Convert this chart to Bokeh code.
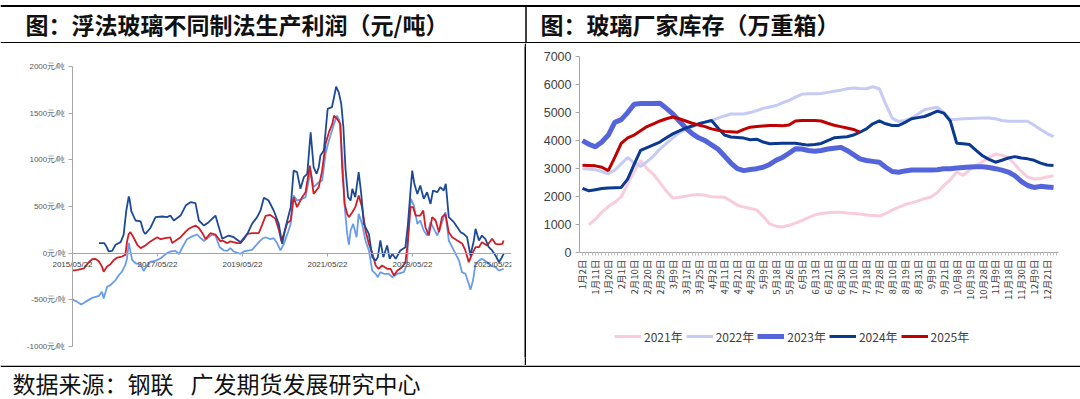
import datetime as dt
import math
from bokeh.plotting import figure
from bokeh.layouts import row, column
from bokeh.models import FixedTicker, Range1d, Legend, LegendItem, Span, Spacer
from bokeh.core.properties import value
from bokeh.embed import file_html
from bokeh.resources import INLINE

CJK = "Noto Sans CJK SC"
TITLE_LEFT = "图：浮法玻璃不同制法生产利润（元/吨）"
TITLE_RIGHT = "图：玻璃厂家库存（万重箱）"
SOURCE_PARTS = ["数据来源：钢联", "广发期货发展研究中心"]

# ---------------- left chart: profit (元/吨), time in fractional years ----------------
petcoke_t = [2016.01, 2016.13, 2016.17, 2016.24, 2016.32, 2016.40, 2016.52, 2016.59, 2016.65, 2016.71,
             2016.73, 2016.77, 2016.87, 2016.99, 2017.06, 2017.10, 2017.22, 2017.34, 2017.50, 2017.61,
             2017.69, 2017.77, 2017.93, 2018.05, 2018.16, 2018.28, 2018.36, 2018.48, 2018.59, 2018.75,
             2018.83, 2018.91, 2019.06, 2019.18, 2019.34, 2019.50, 2019.61, 2019.73, 2019.81, 2019.89,
             2020.00, 2020.12, 2020.24, 2020.32, 2020.40, 2020.52, 2020.59, 2020.67, 2020.75, 2020.83,
             2020.91, 2020.99, 2021.06, 2021.13, 2021.18, 2021.22, 2021.30, 2021.39, 2021.49, 2021.54,
             2021.59, 2021.65, 2021.71, 2021.76, 2021.81, 2021.87, 2021.93, 2021.97, 2022.04, 2022.12,
             2022.18, 2022.24, 2022.36, 2022.44, 2022.52, 2022.57, 2022.63, 2022.70, 2022.79, 2022.85,
             2022.91, 2022.99, 2023.10, 2023.22, 2023.28, 2023.34, 2023.38, 2023.43, 2023.50, 2023.57,
             2023.65, 2023.73, 2023.81, 2023.87, 2023.97, 2024.04, 2024.12, 2024.17, 2024.24, 2024.36,
             2024.44, 2024.52, 2024.59, 2024.67, 2024.75, 2024.83, 2024.87, 2024.95, 2025.02, 2025.10,
             2025.18, 2025.26, 2025.34, 2025.42, 2025.47, 2025.53]
petcoke_v = [108, 108, 83, 18, 25, 90, 118, 198, 450, 607,
             576, 450, 350, 340, 230, 207, 270, 386, 393, 386,
             403, 350, 403, 510, 546, 536, 350, 296, 332, 403,
             278, 154, 189, 171, 118, 207, 314, 386, 457, 593,
             564, 457, 314, 100, 278, 493, 885, 868, 689, 814,
             850, 1296, 921, 850, 921, 1046, 1100, 1546, 1564, 1671,
             1785, 1724, 1599, 1349, 900, 600, 564, 689, 600, 868,
             635, 314, 207, -43, -79, -43, 136, -43, 82, -61,
             -7, -61, 29, 64, 314, 671, 885, 743, 635, 725,
             582, 653, 528, 671, 653, 707, 671, 743, 386, 332,
             278, 225, 207, 171, -25, 136, 261, 136, 189, 154,
             64, 29, -25, -96, -61, -7]

coalgas_t = [2015.39, 2015.50, 2015.66, 2015.77, 2015.85, 2015.93, 2016.01, 2016.08, 2016.12, 2016.20,
             2016.28, 2016.36, 2016.44, 2016.55, 2016.63, 2016.67, 2016.71, 2016.75, 2016.83, 2016.91,
             2016.99, 2017.10, 2017.22, 2017.38, 2017.46, 2017.57, 2017.69, 2017.73, 2017.81, 2017.93,
             2018.05, 2018.12, 2018.28, 2018.36, 2018.44, 2018.52, 2018.63, 2018.75, 2018.87, 2018.91,
             2019.03, 2019.10, 2019.26, 2019.34, 2019.42, 2019.50, 2019.62, 2019.77, 2019.85, 2019.93,
             2020.04, 2020.16, 2020.24, 2020.30, 2020.36, 2020.44, 2020.52, 2020.59, 2020.67, 2020.79,
             2020.87, 2020.97, 2021.06, 2021.18, 2021.26, 2021.34, 2021.42, 2021.50, 2021.54, 2021.61,
             2021.69, 2021.73, 2021.79, 2021.85, 2021.89, 2021.97, 2022.04, 2022.12, 2022.20, 2022.28,
             2022.36, 2022.44, 2022.52, 2022.59, 2022.67, 2022.79, 2022.87, 2022.95, 2023.03, 2023.14,
             2023.22, 2023.28, 2023.34, 2023.40, 2023.46, 2023.57, 2023.64, 2023.69, 2023.77, 2023.85,
             2023.93, 2024.01, 2024.08, 2024.16, 2024.24, 2024.32, 2024.44, 2024.56, 2024.63, 2024.71,
             2024.79, 2024.87, 2024.95, 2025.02, 2025.14, 2025.26, 2025.34, 2025.42, 2025.50, 2025.53]
coalgas_v = [-187, -180, -162, -97, -65, -61, -90, -144, -198, -144,
             -119, -72, -47, -36, -18, 126, 205, 225, 162, 90,
             54, 83, 126, 170, 150, 162, 169, 110, 133, 171,
             230, 261, 296, 270, 216, 150, 214, 200, 126, 136,
             108, 126, 107, 108, 150, 207, 214, 216, 306, 400,
             410, 370, 252, 126, 207, 324, 350, 600, 493, 600,
             653, 939, 635, 707, 885, 1171, 1296, 1385, 1474, 1439,
             1385, 921, 528, 420, 386, 439, 493, 618, 493, 243,
             100, 0, -132, -168, -132, -168, -168, -239, -186, -150,
             -96, 136, 493, 493, 403, 403, 457, 278, 189, 386,
             350, 225, 386, 421, 225, 171, 136, 100, 29, -96,
             -7, 64, 64, 118, 82, 154, 100, 93, 100, 136]

natgas_t = [2015.39, 2015.50, 2015.59, 2015.69, 2015.85, 2016.01, 2016.08, 2016.12, 2016.20, 2016.28,
            2016.40, 2016.48, 2016.55, 2016.63, 2016.67, 2016.71, 2016.75, 2016.79, 2016.87, 2016.99,
            2017.06, 2017.14, 2017.22, 2017.34, 2017.46, 2017.61, 2017.69, 2017.81, 2017.89, 2017.97,
            2018.08, 2018.20, 2018.32, 2018.40, 2018.48, 2018.56, 2018.67, 2018.75, 2018.85, 2018.95,
            2019.03, 2019.10, 2019.18, 2019.34, 2019.42, 2019.61, 2019.77, 2019.85, 2019.93, 2020.04,
            2020.12, 2020.20, 2020.28, 2020.36, 2020.46, 2020.52, 2020.59, 2020.67, 2020.79, 2020.87,
            2020.99, 2021.06, 2021.18, 2021.26, 2021.34, 2021.42, 2021.54, 2021.61, 2021.67, 2021.74,
            2021.79, 2021.85, 2021.89, 2021.93, 2021.99, 2022.07, 2022.12, 2022.20, 2022.28, 2022.36,
            2022.44, 2022.52, 2022.57, 2022.63, 2022.71, 2022.83, 2022.91, 2023.03, 2023.18, 2023.26,
            2023.30, 2023.35, 2023.42, 2023.50, 2023.57, 2023.65, 2023.73, 2023.81, 2023.89, 2023.97,
            2024.03, 2024.11, 2024.16, 2024.24, 2024.32, 2024.40, 2024.48, 2024.55, 2024.63, 2024.71,
            2024.75, 2024.81, 2024.87, 2024.95, 2025.02, 2025.14, 2025.22, 2025.34, 2025.42, 2025.53]
natgas_v = [-497, -522, -551, -522, -479, -457, -414, -486, -360, -342,
            -288, -234, -198, -126, -54, 110, 18, -72, -108, -119,
            -191, -133, -90, -83, -54, 0, 18, 25, -11, 61,
            150, 180, 200, 162, 130, 162, 198, 189, 64, 29,
            25, 54, 18, -7, 18, 36, 118, 154, 171, 150,
            160, 108, 29, 100, 230, 314, 618, 564, 582, 600,
            885, 707, 760, 778, 1064, 1207, 1385, 1474, 1421, 1000,
            500, 207, 90, 243, 314, 171, 421, 314, 136, 29,
            -186, -221, -257, -203, -221, -221, -257, -221, -203, -114,
            386, 582, 510, 314, 350, 243, 189, 332, 261, 189,
            261, 368, 439, 136, 64, -7, -79, -203, -221, -328,
            -393, -293, -114, -79, -61, -96, -132, -150, -186, -168]

left_tick_dates = ["2015/05/22", "2017/05/22", "2019/05/22", "2021/05/22", "2023/05/22", "2025/05/22"]
left_y_ticks = [-1000, -500, 0, 500, 1000, 1500, 2000]

# ---------------- right chart: inventory (万重箱) ----------------
nan = float("nan")
inv_labels = ["1月2日", "1月11日", "1月20日", "2月1日", "2月10日", "2月20日", "2月29日", "3月9日",
              "3月17日", "3月25日", "4月2日", "4月11日", "4月21日", "4月29日", "5月9日", "5月18日",
              "5月26日", "6月5日", "6月13日", "6月21日", "6月30日", "7月10日", "7月18日", "7月28日",
              "8月10日", "8月19日", "8月31日", "9月9日", "9月21日", "10月8日", "10月19日", "10月28日",
              "11月9日", "11月18日", "11月30日", "12月9日", "12月21日"]
inv_y_ticks = [0, 1000, 2000, 3000, 4000, 5000, 6000, 7000]
inv_2021 = [nan, 1000, 1200, 1450, 1650, 1800, 2000, 2450, 2900, 3290,
            3000, 2800, 2500, 2200, 1950, 1980, 2020, 2060, 2080, 2050,
            2000, 1990, 1980, 1850, 1700, 1630, 1580, 1530, 1300, 1030,
            950, 920, 980, 1060, 1150, 1250, 1350, 1400, 1430, 1450,
            1450, 1420, 1400, 1380, 1350, 1330, 1310, 1400, 1520, 1630,
            1720, 1780, 1850, 1930, 1990, 2150, 2400, 2600, 2880, 2760,
            2950, 3110, 3250, 3400, 3520, 3480, 3400, 3150, 2900, 2700,
            2630, 2650, 2700, 2750]
inv_2022 = [3000, 2990, 2960, 2900, 2820, 2950, 3170, 3400, 3200, 3080,
            3250, 3450, 3700, 3900, 4100, 4280, 4400, 4500, 4600, 4660,
            4720, 4800, 4880, 4950, 4950, 4950, 5000, 5070, 5150, 5200,
            5250, 5350, 5430, 5550, 5650, 5670, 5670, 5680, 5720, 5760,
            5800, 5850, 5880, 5860, 5850, 5920, 5850, 5300, 4800, 4680,
            4720, 4800, 4950, 5100, 5150, 5190, 5000, 4750, 4760, 4780,
            4790, 4800, 4810, 4810, 4780, 4720, 4690, 4690, 4690, 4690,
            4550, 4400, 4250, 4140]
inv_2023 = [4000, 3870, 3780, 3950, 4200, 4650, 4750, 5000, 5300, 5320,
            5320, 5320, 5330, 5150, 4950, 4700, 4450, 4250, 4100, 4000,
            3850, 3700, 3450, 3200, 3000, 2930, 2970, 3000, 3050, 3150,
            3300, 3400, 3550, 3710, 3700, 3650, 3620, 3650, 3700, 3730,
            3760, 3650, 3500, 3350, 3290, 3260, 3230, 3050, 2900, 2870,
            2920, 2950, 2950, 2950, 2950, 2960, 3000, 3000, 3020, 3040,
            3060, 3070, 3070, 3040, 3000, 2950, 2880, 2750, 2550, 2400,
            2330, 2370, 2350, 2330]
inv_2024 = [2300, 2210, 2250, 2290, 2310, 2320, 2330, 2630, 3150, 3650,
            3750, 3850, 3950, 4100, 4240, 4350, 4450, 4520, 4600, 4660,
            4720, 4450, 4200, 4130, 4110, 4090, 4030, 4050, 3950, 3890,
            3900, 3910, 3910, 3910, 3870, 3840, 3860, 3900, 4000, 4100,
            4120, 4140, 4200, 4300, 4420, 4600, 4700, 4600, 4540, 4540,
            4650, 4780, 4820, 4860, 4950, 5050, 4980, 4700, 3910, 3890,
            3860, 3650, 3460, 3330, 3230, 3300, 3380, 3430, 3380, 3350,
            3300, 3200, 3130, 3110]
inv_2025 = [3120, 3110, 3100, 3050, 2930, 3400, 3900, 4100, 4200, 4350,
            4500, 4600, 4700, 4780, 4840, 4780, 4700, 4620, 4560, 4500,
            4420, 4370, 4330, 4320, 4300, 4400, 4480, 4500, 4520, 4540,
            4540, 4530, 4560, 4700, 4720, 4720, 4720, 4700, 4620, 4550,
            4500, 4450, 4400, 4300]
inv_years = ["2021年", "2022年", "2023年", "2024年", "2025年"]


def frac_year(s):
    d = dt.datetime.strptime(s, "%Y/%m/%d")
    start = dt.datetime(d.year, 1, 1)
    n = (dt.datetime(d.year + 1, 1, 1) - start).days
    return d.year + (d - start).days / n


W = 1080
ROW_H = 322
BT, BB = 3, 8  # shared frame borders (top, bottom) of both charts

# ---------------- header ----------------
hdr = figure(width=W, height=43, x_range=Range1d(0, W), y_range=Range1d(43, 0),
             output_backend="svg", toolbar_location=None, min_border=0,
             x_axis_type=None, y_axis_type=None, outline_line_color=None)
hdr.add_layout(Span(location=5.5, dimension="width", line_color="black", line_width=2))
hdr.add_layout(Span(location=42.3, dimension="width", line_color="black", line_width=1.5))
hdr.segment(x0=[525.5], y0=[5], x1=[525.5], y1=[43], line_color="black", line_width=1.5)
hdr.text(x=[25, 540], y=[23, 23], text=[TITLE_LEFT, TITLE_RIGHT],
         text_font=value(CJK), text_font_size="23px", text_font_style="bold",
         text_baseline="middle", text_color="#111111")

# ---------------- left chart ----------------
lt = [frac_year(s) for s in left_tick_dates]
x0_left = lt[0]
ppu_l = 280 / 3000.0
left = figure(width=513, height=ROW_H, x_range=Range1d(x0_left - 52 / 42.5, x0_left + 439 / 42.5),
              y_range=Range1d(-1000 - 11 / ppu_l, 2000 + 20 / ppu_l),
              output_backend="svg", toolbar_location=None, min_border_left=20, min_border_right=2,
              min_border_top=BT, min_border_bottom=BB, outline_line_color=None)
left.grid.visible = False
left.line(natgas_t, natgas_v, color="#6A9CEC", line_width=1.8)
left.line(coalgas_t, coalgas_v, color="#D01E26", line_width=1.8)
left.line(petcoke_t, petcoke_v, color="#1D4A96", line_width=1.8)
xa = left.xaxis[0]
xa.fixed_location = 0
xa.bounds = (x0_left, x0_left + 439 / 42.5)
xa.ticker = FixedTicker(ticks=lt, minor_ticks=[])
xa.major_label_overrides = {t: s for t, s in zip(lt, left_tick_dates)}
xa.axis_line_color = "#A6A6A6"
xa.major_tick_line_color = "#A6A6A6"
xa.major_tick_out = 3
xa.major_tick_in = 0
xa.minor_tick_line_color = None
xa.major_label_standoff = 4
xa.major_label_text_font = "Liberation Sans"
xa.major_label_text_font_size = "8px"
xa.major_label_text_color = "#404040"
ya = left.yaxis[0]
ya.fixed_location = x0_left
ya.bounds = (-1000, 2000)
ya.ticker = FixedTicker(ticks=left_y_ticks, minor_ticks=[])
ya.major_label_overrides = {v: f"{v}元/吨" for v in left_y_ticks}
ya.axis_line_color = "#A6A6A6"
ya.major_tick_line_color = "#A6A6A6"
ya.major_tick_out = 4
ya.major_tick_in = 0
ya.minor_tick_line_color = None
ya.major_label_standoff = 3
ya.major_label_text_font = "Liberation Sans"
ya.major_label_text_font_size = "8px"
ya.major_label_text_color = "#595959"

# ---------------- divider ----------------
gap = Spacer(width=11, height=ROW_H)
div = figure(width=2, height=ROW_H, output_backend="svg", toolbar_location=None, min_border=0,
             x_axis_type=None, y_axis_type=None, outline_line_color=None,
             background_fill_color="black", border_fill_color="black")

# ---------------- right chart ----------------
n = len(inv_2024)
xs = list(range(n))
PX = 471 / 73.0
rx_axis = -3 / PX
rx_end = 73 + 5 / PX
ppu_r = 196.3 / 7000.0
right = figure(width=554, height=ROW_H, x_range=Range1d(-51 / PX, rx_end),
               y_range=Range1d(-(314 - 209.3) / ppu_r, 7000 + 10 / ppu_r),
               output_backend="svg", toolbar_location=None, min_border_left=5, min_border_right=22,
               min_border_top=BT, min_border_bottom=BB, outline_line_color=None)
right.grid.visible = False
styles = [("#F9CCDD", 3), ("#C5CBF2", 3), ("#5465DC", 5), ("#0B3990", 3), ("#C00000", 3)]
series = [inv_2021, inv_2022, inv_2023, inv_2024, inv_2025]
items = []
for (col, lw), ys, lab in zip(styles, series, inv_years):
    r = right.line(xs[:len(ys)], ys, color=col, line_width=lw)
    items.append(LegendItem(label=lab, renderers=[r]))
rx = right.xaxis[0]
rx.fixed_location = 0
rx.bounds = (rx_axis, rx_end)
rx.ticker = FixedTicker(ticks=[2 * i for i in range(len(inv_labels))],
                        minor_ticks=[0.5 * i for i in range(148)])
rx.major_label_overrides = {2 * i: s for i, s in enumerate(inv_labels)}
rx.major_label_orientation = math.pi / 2
rx.axis_line_color = "#A6A6A6"
rx.major_tick_line_color = "#A6A6A6"
rx.minor_tick_line_color = "#BFBFBF"
rx.major_tick_out = 3
rx.major_tick_in = 0
rx.minor_tick_out = 3
rx.minor_tick_in = 0
rx.major_label_standoff = 4
rx.major_label_text_font = CJK
rx.major_label_text_font_size = "9.5px"
rx.major_label_text_color = "#404040"
ry = right.yaxis[0]
ry.fixed_location = rx_axis
ry.bounds = (0, 7000)
ry.ticker = FixedTicker(ticks=inv_y_ticks, minor_ticks=[])
ry.axis_line_color = "#A6A6A6"
ry.major_tick_line_color = "#A6A6A6"
ry.major_tick_out = 4
ry.major_tick_in = 0
ry.minor_tick_line_color = None
ry.major_label_standoff = 4
ry.major_label_text_font = "Liberation Sans"
ry.major_label_text_font_size = "12.5px"
ry.major_label_text_color = "#404040"
leg = Legend(items=items, orientation="horizontal", location=(83, 12.5),
             padding=0, margin=0, spacing=3, glyph_width=27, glyph_height=14, label_standoff=3,
             label_text_font=CJK, label_text_font_size="12px", label_text_color="#404040",
             border_line_alpha=0, background_fill_alpha=0)
right.add_layout(leg, "center")

# ---------------- footer ----------------
ftr = figure(width=W, height=34, x_range=Range1d(0, W), y_range=Range1d(34, 0),
             output_backend="svg", toolbar_location=None, min_border=0,
             x_axis_type=None, y_axis_type=None, outline_line_color=None)
ftr.add_layout(Span(location=0.75, dimension="width", line_color="black", line_width=1.5))
ftr.text(x=[12, 190], y=[17, 17], text=SOURCE_PARTS, text_font=value(CJK), text_font_size="23px",
         text_baseline="middle", text_color="#111111")

layout = column(hdr, row(left, gap, div, right), ftr)
open("out.html", "w").write(file_html(layout, INLINE))
